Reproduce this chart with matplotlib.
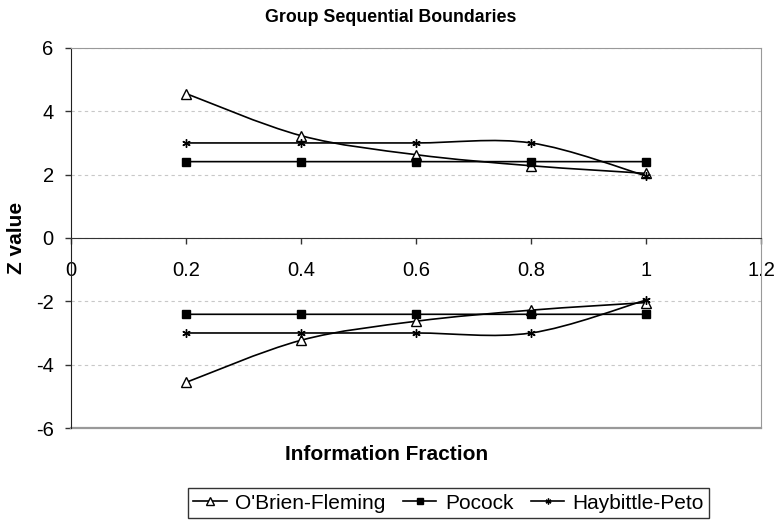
import numpy as np
import matplotlib
matplotlib.use("Agg")
import matplotlib.pyplot as plt
from matplotlib.path import Path
from matplotlib.patches import PathPatch
from matplotlib.lines import Line2D

plt.rcParams['font.family'] = ['Liberation Sans', 'DejaVu Sans']
plt.rcParams['axes.unicode_minus'] = False

# Data
info_frac = [0.2, 0.4, 0.6, 0.8, 1.0]
obf_upper = [4.56, 3.23, 2.63, 2.28, 2.04]
obf_lower = [-4.56, -3.23, -2.63, -2.28, -2.04]
pocock_upper = [2.41, 2.41, 2.41, 2.41, 2.41]
pocock_lower = [-2.41, -2.41, -2.41, -2.41, -2.41]
hp_upper = [3.0, 3.0, 3.0, 3.0, 1.96]
hp_lower = [-3.0, -3.0, -3.0, -3.0, -1.96]

x_ticks = [0, 0.2, 0.4, 0.6, 0.8, 1.0, 1.2]
x_tick_labels = ["0", "0.2", "0.4", "0.6", "0.8", "1", "1.2"]
y_ticks = [-6, -4, -2, 0, 2, 4, 6]
y_tick_labels = ["-6", "-4", "-2", "0", "2", "4", "6"]

series_names = ["O'Brien-Fleming", "Pocock", "Haybittle-Peto"]


# Excel-style smoothed line: cubic bezier through the points
def smooth_path(xs, ys):
    pts = np.column_stack([xs, ys])
    n = len(pts)
    verts = [pts[0]]
    codes = [Path.MOVETO]
    for i in range(n - 1):
        p0 = pts[max(i - 1, 0)]
        p1 = pts[i]
        p2 = pts[i + 1]
        p3 = pts[min(i + 2, n - 1)]
        c1 = p1 + (p2 - p0) / 6.0
        c2 = p2 - (p3 - p1) / 6.0
        verts += [c1, c2, p2]
        codes += [Path.CURVE4] * 3
    return Path(verts, codes)


fig = plt.figure(figsize=(7.77, 5.21), dpi=100)
ax = fig.add_axes([0.0914, 0.1785, 0.888, 0.7295])

styles = [
    dict(marker='^', ms=7.5, mfc='white', mec='black', mew=1.0),
    dict(marker='s', ms=5.5, mfc='black', mec='black', mew=1.0),
    dict(marker=(6, 2, 0), ms=6, mfc='black', mec='black', mew=1.0),
]
pairs = [(obf_upper, obf_lower), (pocock_upper, pocock_lower), (hp_upper, hp_lower)]

for (up, lo), st in zip(pairs, styles):
    for ys in (up, lo):
        ax.add_patch(PathPatch(smooth_path(info_frac, ys), fill=False,
                               ec='black', lw=1.2, zorder=3))
        ax.plot(info_frac, ys, linestyle='none', zorder=4, **st)

ax.set_xlim(0, 1.2)
ax.set_ylim(-6, 6)
ax.set_xticks(x_ticks)
ax.set_xticklabels(x_tick_labels)
ax.set_yticks(y_ticks)
ax.set_yticklabels(y_tick_labels)

ax.grid(axis='y', color='#c8c8c8', lw=0.8, linestyle=(0, (3, 3)), zorder=0)
ax.set_axisbelow(True)

ax.spines['bottom'].set_position(('data', 0))
ax.spines['bottom'].set_color('#333333')
ax.spines['left'].set_color('#222222')
for s in ('top', 'right'):
    ax.spines[s].set_color('#999999')
ax.axhline(-6, color='#999999', lw=1.6, clip_on=False, zorder=2)

ax.tick_params(axis='x', direction='out', length=4.5, width=1, pad=12,
               labelsize=14.5, colors='#333333', labelcolor='black')
ax.tick_params(axis='y', direction='out', length=4.5, width=1, pad=8,
               labelsize=14.5, colors='#333333', labelcolor='black')

fig.text(0.503, 0.967, "Group Sequential Boundaries", ha='center', va='center',
         fontsize=12.8, fontweight='bold')
fig.text(0.021, 0.543, "Z value", ha='center', va='center', rotation=90,
         fontsize=15, fontweight='bold')
fig.text(0.498, 0.127, "Information Fraction", ha='center', va='center',
         fontsize=15, fontweight='bold')

handles = [Line2D([], [], color='black', lw=1.2, **st) for st in styles]
leg = fig.legend(handles, series_names, loc='center', ncol=3,
                 bbox_to_anchor=(0.5775, 0.0345), bbox_transform=fig.transFigure,
                 fontsize=15, frameon=True, fancybox=False, markerscale=0.7,
                 handlelength=1.6, handletextpad=0.4, columnspacing=0.85,
                 borderpad=0.25, borderaxespad=0)
leg.get_frame().set_edgecolor('black')
leg.get_frame().set_linewidth(1.0)

fig.savefig("out.png", dpi=100)
